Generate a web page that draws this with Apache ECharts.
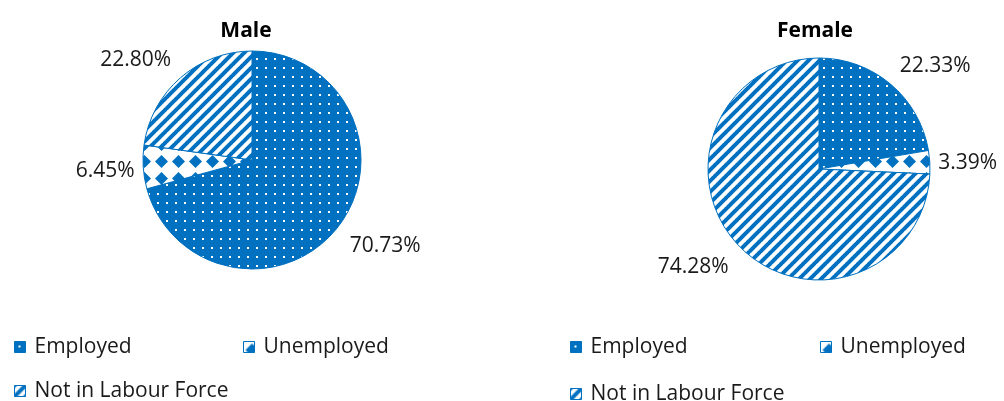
<!DOCTYPE html>
<html>
<head>
<meta charset="utf-8">
<script src="https://cdn.jsdelivr.net/npm/echarts@6/dist/echarts.min.js"></script>
<style>
  html, body { margin: 0; padding: 0; background: #ffffff; }
  #chart { width: 1004px; height: 401px; }
</style>
</head>
<body>
<div id="chart"></div>
<script>
// Labour force status by sex (%)
const categories = ['Employed', 'Unemployed', 'Not in Labour Force'];
const maleValues = [70.73, 6.45, 22.80];
const femaleValues = [22.33, 3.39, 74.28];
const panelTitles = ['Male', 'Female'];

const BLUE = '#0070C0';
const FONT = '"Open Sans", "DejaVu Sans", sans-serif';

// Pie geometry for each panel
const pies = [
  { center: [252, 160], radius: 109, values: maleValues },
  { center: [819, 169], radius: 111, values: femaleValues }
];

function makeTile(w, h, draw) {
  const c = document.createElement('canvas');
  c.width = w; c.height = h;
  draw(c.getContext('2d'), w, h);
  return c;
}

// Blue fill with a grid of small white dots
const dotTile = makeTile(9, 9, (ctx, w, h) => {
  ctx.fillStyle = BLUE; ctx.fillRect(0, 0, w, h);
  ctx.fillStyle = '#ffffff'; ctx.fillRect(4, 4, 2, 2);
});
// White fill with blue diamonds
const diamondTile = makeTile(17, 17, (ctx, w, h) => {
  ctx.fillStyle = '#ffffff'; ctx.fillRect(0, 0, w, h);
  ctx.fillStyle = BLUE;
  ctx.beginPath();
  ctx.moveTo(8.5, 2); ctx.lineTo(15, 8.5); ctx.lineTo(8.5, 15); ctx.lineTo(2, 8.5);
  ctx.closePath(); ctx.fill();
});
// White fill with wide upward diagonal stripes
const stripeTile = makeTile(11, 11, (ctx, w, h) => {
  ctx.fillStyle = '#ffffff'; ctx.fillRect(0, 0, w, h);
  ctx.strokeStyle = BLUE; ctx.lineWidth = 4;
  for (const k of [-w, 0, w]) {
    ctx.beginPath(); ctx.moveTo(k - 1, h + 1); ctx.lineTo(k + w + 1, -1); ctx.stroke();
  }
});

const fills = [
  { image: dotTile, repeat: 'repeat' },
  { image: diamondTile, repeat: 'repeat' },
  { image: stripeTile, repeat: 'repeat' }
];

function pieData(values) {
  return categories.map((name, i) => ({
    name: name,
    value: values[i],
    itemStyle: { color: fills[i] }
  }));
}

// Place each value label just beyond the outer edge of its slice
// (slices start at 12 o'clock and run clockwise). The label box is
// pushed off the anchor point so that its nearest corner touches it.
function outsideEnd(params) {
  const pie = pies[params.seriesIndex];
  const vals = pie.values;
  const total = vals.reduce((a, b) => a + b, 0);
  let before = 0;
  for (let i = 0; i < params.dataIndex; i++) before += vals[i];
  const theta = (before + vals[params.dataIndex] / 2) / total * Math.PI * 2;
  const dx = Math.sin(theta), dy = -Math.cos(theta);
  const hw = params.labelRect.width / 2, hh = params.labelRect.height / 2 - 1;
  const ax = Math.abs(dx), ay = Math.abs(dy);
  const kx = Math.min(1, 1.5 * ax / Math.max(ay, 1e-6));
  const ky = Math.min(1, 1.5 * ay / Math.max(ax, 1e-6));
  const gap = 8 + 6 * Math.min(kx, ky);
  const d = pie.radius + gap;
  return {
    x: pie.center[0] + dx * d + Math.sign(dx) * hw * kx,
    y: pie.center[1] + dy * d + Math.sign(dy) * hh * ky + 2,
    align: 'center',
    verticalAlign: 'middle'
  };
}

function pieSeries(idx) {
  const pie = pies[idx];
  return {
    type: 'pie',
    name: panelTitles[idx],
    center: pie.center,
    radius: pie.radius,
    startAngle: 90,
    clockwise: true,
    avoidLabelOverlap: false,
    silent: true,
    itemStyle: { borderColor: BLUE, borderWidth: 1 },
    label: {
      show: true,
      position: 'outside',
      formatter: p => p.value.toFixed(2) + '%',
      fontFamily: FONT,
      fontSize: 21,
      color: '#1a1a1a'
    },
    labelLine: { show: false, length: 14, length2: 0 },
    labelLayout: outsideEnd,
    data: pieData(pie.values)
  };
}

function legendItem(name, left, top) {
  return {
    data: [name],
    left: left,
    top: top,
    padding: 0,
    icon: 'rect',
    itemWidth: 11,
    itemHeight: 11,
    itemStyle: { borderColor: BLUE, borderWidth: 1 },
    selectedMode: false,
    textStyle: { fontFamily: FONT, fontSize: 21, color: '#1a1a1a', lineHeight: 24, padding: [0, 0, 0, 4] }
  };
}

const chart = echarts.init(document.getElementById('chart'), null, { renderer: 'canvas' });
chart.setOption({
  animation: false,
  backgroundColor: '#ffffff',
  title: [
    { text: panelTitles[0], left: 241, top: 16, textAlign: 'center',
      textStyle: { fontFamily: FONT, fontSize: 21, fontWeight: 'bold', color: '#000000' } },
    { text: panelTitles[1], left: 810, top: 16, textAlign: 'center',
      textStyle: { fontFamily: FONT, fontSize: 21, fontWeight: 'bold', color: '#000000' } }
  ],
  legend: [
    legendItem(categories[0], 14, 335),
    legendItem(categories[1], 243, 335),
    legendItem(categories[2], 14, 379),
    legendItem(categories[0], 570, 335),
    legendItem(categories[1], 820, 335),
    legendItem(categories[2], 570, 382)
  ],
  series: [pieSeries(0), pieSeries(1)]
});
</script>
</body>
</html>
